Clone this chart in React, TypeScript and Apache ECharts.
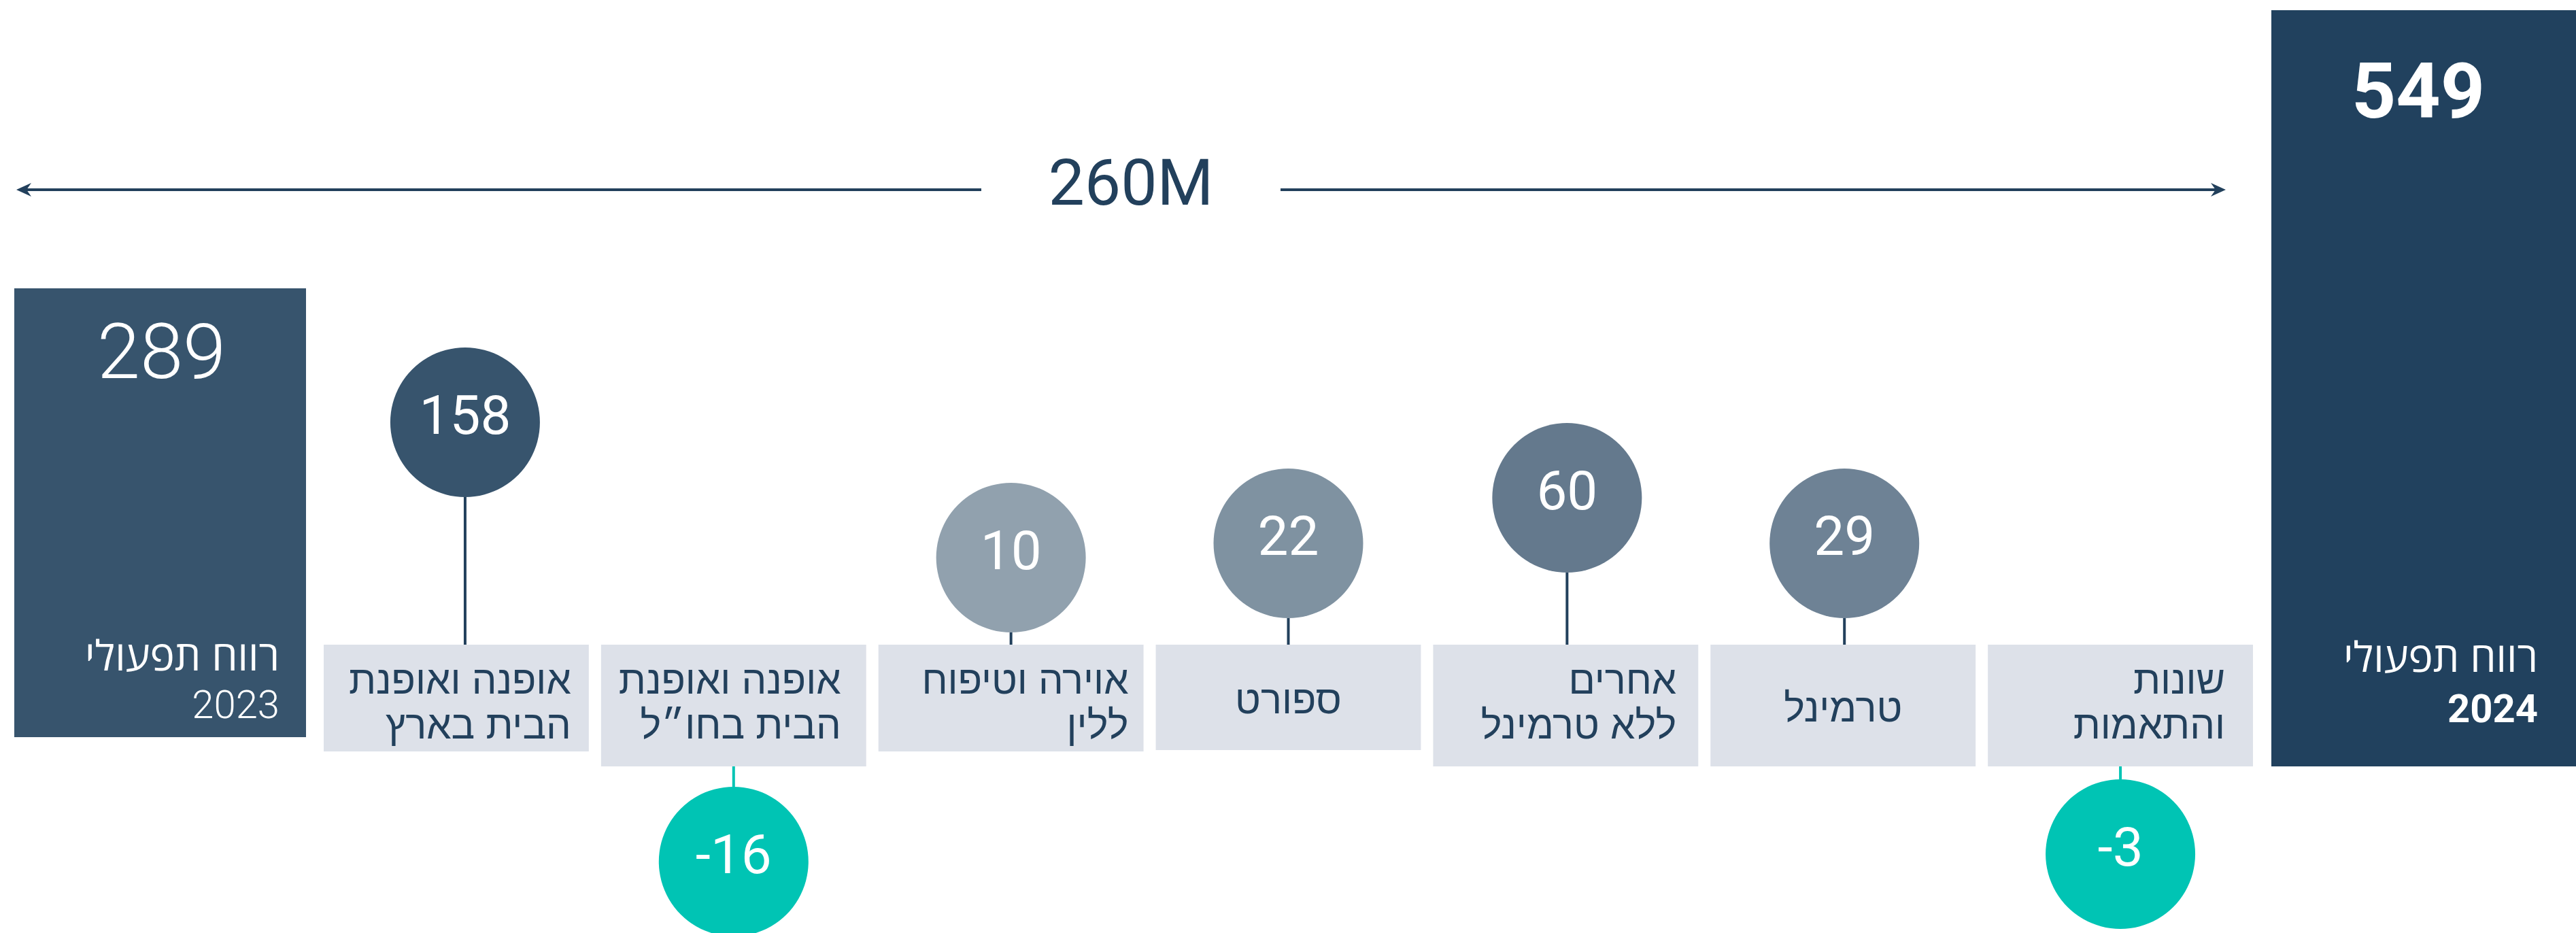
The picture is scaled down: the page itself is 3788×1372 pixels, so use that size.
import React, { useEffect, useRef } from "react";
import * as echarts from "echarts";

// ---------- data ----------
const segmentLabels = [
  "אופנה ואופנת\nהבית בארץ",
  "אופנה ואופנת\nהבית בחו״ל",
  "אוירה וטיפוח\nללין",
  "ספורט",
  "אחרים\nללא טרמינל",
  "טרמינל",
  "שונות\nוהתאמות",
];
const segmentValues = [158, -16, 10, 22, 60, 29, -3];
const totalTitles = ["רווח תפעולי", "רווח תפעולי"];
const totalYears = ["2023", "2024"];
const totalValues = [289, 549];
const diffUnit = "M";

// ---------- layout & style ----------
const W = 3788;
const H = 1372;
const NAVY = "#22405c";
const TEAL = "#00c4b4";
const BOX_FILL = "#dde1e9";
const BOX_TOP = 948;
const BOX_GAP = 18;
const R = 110;
const LINE_H = 66;
const boxBottoms = [1105, 1127, 1105, 1103, 1127, 1127, 1127];
const stemGaps = [217, 30, 18, 39, 106, 39, 19];
const circleShift = [13, 0, 0, 0, 2, 2, 0];
const textPads = [26, 37, 22, 0, 32, 0, 41];
const circleColors = ["#37546d", TEAL, "#91a1ae", "#7f92a1", "#64798d", "#6e8295", TEAL];
const totalColors = ["#37546d", "#21415e"];
const totalTops = [424, 15];
const totalBottoms = [1084, 1127];
const totalNumY = [517, 134];
const totalLine1Y = [962, 964];
const totalLine2Y = [1036, 1042];

const FONT_HE = "'Liberation Sans', 'DejaVu Sans', sans-serif";
const FONT_HE_BAR = "'Open Sans', 'Liberation Sans', 'DejaVu Sans', sans-serif";
const FONT_NUM = "Roboto, 'Open Sans', sans-serif";

function renderSegment(params: any, api: any) {
  const i = params.dataIndex;
  const v = api.value(1) as number;
  const cx = api.coord([i, 0])[0];
  const band = api.size([1, 0])[0];
  const bw = band - BOX_GAP;
  const top = api.coord([i, BOX_TOP])[1];
  const bottom = api.coord([i, boxBottoms[i]])[1];
  const ccx = cx + circleShift[i];
  let cy: number, s0: number, s1: number;
  if (v >= 0) {
    s0 = top;
    s1 = top - stemGaps[i];
    cy = s1 - R;
  } else {
    s0 = bottom;
    s1 = bottom + stemGaps[i];
    cy = s1 + R;
  }
  const label = segmentLabels[i];
  const multi = label.indexOf("\n") >= 0;
  return {
    type: "group",
    children: [
      {
        type: "rect",
        shape: { x: cx - bw / 2, y: top, width: bw, height: bottom - top },
        style: { fill: BOX_FILL },
      },
      {
        type: "line",
        shape: { x1: ccx, y1: s0, x2: ccx, y2: s1 },
        style: { stroke: v >= 0 ? NAVY : TEAL, lineWidth: 4 },
      },
      { type: "circle", shape: { cx: ccx, cy, r: R }, style: { fill: circleColors[i] } },
      {
        type: "text",
        style: {
          text: String(v),
          x: ccx,
          y: cy - 10,
          align: "center",
          verticalAlign: "middle",
          fill: "#ffffff",
          fontSize: 80,
          fontWeight: 400,
          fontFamily: FONT_NUM,
        },
      },
      {
        type: "text",
        style: {
          text: label,
          x: multi ? cx + bw / 2 - textPads[i] : cx,
          y: multi ? top + 51 + LINE_H / 2 : (top + bottom) / 2 + 3,
          align: multi ? "right" : "center",
          verticalAlign: "middle",
          lineHeight: LINE_H,
          fill: NAVY,
          fontSize: 58,
          fontFamily: FONT_HE,
        },
      },
    ],
  };
}

function renderTotal(params: any, api: any) {
  const i = params.dataIndex;
  const v = api.value(1) as number;
  const cs = params.coordSys;
  const x0 = i === 0 ? 21 : cs.x + cs.width + 18;
  const x1 = i === 0 ? cs.x - 17 : W + 2;
  const numX = i === 0 ? (x0 + x1) / 2 + 2 : x0 + 216;
  const txtX = i === 0 ? x1 - 39 : x0 + 392;
  const bold = i === 1;
  return {
    type: "group",
    children: [
      {
        type: "rect",
        shape: { x: x0, y: totalTops[i], width: x1 - x0, height: totalBottoms[i] - totalTops[i] },
        style: { fill: totalColors[i] },
      },
      {
        type: "text",
        style: {
          text: String(v),
          x: numX,
          y: totalNumY[i],
          align: "center",
          verticalAlign: "middle",
          fill: "#ffffff",
          fontSize: 114,
          fontWeight: bold ? 700 : 300,
          fontFamily: FONT_NUM,
        },
      },
      {
        type: "text",
        style: {
          text: totalTitles[i],
          x: txtX,
          y: totalLine1Y[i],
          align: "right",
          verticalAlign: "middle",
          fill: "#ffffff",
          fontSize: 61,
          fontWeight: 400,
          fontFamily: FONT_HE_BAR,
        },
      },
      {
        type: "text",
        style: {
          text: totalYears[i],
          x: txtX,
          y: totalLine2Y[i],
          align: "right",
          verticalAlign: "middle",
          fill: "#ffffff",
          fontSize: 58,
          fontWeight: bold ? 700 : 300,
          fontFamily: FONT_NUM,
        },
      },
    ],
  };
}

function renderDiff(params: any, api: any) {
  const v = api.value(1) as number;
  const y = 279;
  const xl = 24;
  const xr = 3273;
  const tx = 1663;
  const half = 220;
  const head = (tip: number, dir: number) => ({
    type: "polygon",
    shape: {
      points: [
        [tip, y],
        [tip - dir * 22, y - 10],
        [tip - dir * 15, y],
        [tip - dir * 22, y + 10],
      ],
    },
    style: { fill: NAVY },
  });
  return {
    type: "group",
    children: [
      { type: "line", shape: { x1: xl + 8, y1: y, x2: tx - half, y2: y }, style: { stroke: NAVY, lineWidth: 4 } },
      { type: "line", shape: { x1: tx + half, y1: y, x2: xr - 8, y2: y }, style: { stroke: NAVY, lineWidth: 4 } },
      head(xl, -1),
      head(xr, 1),
      {
        type: "text",
        style: {
          text: `${v}${diffUnit}`,
          x: tx,
          y: 268,
          align: "center",
          verticalAlign: "middle",
          fill: NAVY,
          fontSize: 95,
          fontWeight: 400,
          fontFamily: FONT_NUM,
        },
      },
    ],
  };
}

export default function App() {
  const ref = useRef<HTMLDivElement>(null);
  useEffect(() => {
    document.body.style.margin = "0";
    if (!ref.current) return;
    const chart = echarts.init(ref.current, undefined, { renderer: "svg" });
    const diff = totalValues[1] - totalValues[0];
    chart.setOption({
      animation: false,
      backgroundColor: "#ffffff",
      grid: { left: 467, right: 466, top: 0, bottom: 0 },
      xAxis: { type: "category", data: segmentLabels, show: false },
      yAxis: { type: "value", min: 0, max: H, inverse: true, show: false },
      series: [
        {
          type: "custom",
          name: "totals",
          data: totalValues.map((v, i) => [i, v]),
          renderItem: renderTotal,
          clip: false,
          silent: true,
        },
        {
          type: "custom",
          name: "diff",
          data: [[0, diff]],
          renderItem: renderDiff,
          clip: false,
          silent: true,
        },
        {
          type: "custom",
          name: "segments",
          data: segmentValues.map((v, i) => [i, v]),
          renderItem: renderSegment,
          clip: false,
          silent: true,
        },
      ],
    });
    return () => chart.dispose();
  }, []);
  return <div ref={ref} style={{ width: W, height: H }} />;
}
